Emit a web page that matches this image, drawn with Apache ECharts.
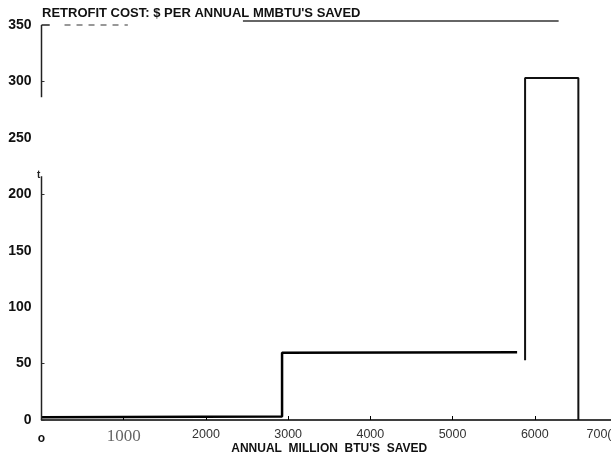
<!DOCTYPE html>
<html>
<head>
<meta charset="utf-8">
<script src="https://cdn.jsdelivr.net/npm/echarts@6/dist/echarts.min.js"></script>
<style>html,body{margin:0;padding:0;background:#fff;}#c{width:611px;height:458px;}</style>
</head>
<body>
<div id="c"></div>
<script>
// --- data ---
var xTicks = [0, 1000, 2000, 3000, 4000, 5000, 6000, 7000];
var yTicks = [0, 50, 100, 150, 200, 250, 300, 350];
var yTickMarks = [0, 50, 200, 300];
// step curve: low-cost block then mid-cost block
var stepX = [0, 2926, 2926, 5785];
var stepY = [2.5, 3, 59.5, 60];
// high-cost block
var highX = [5882, 5882, 6530, 6530];
var highY = [53, 303, 303, 0];
// frame fragments of the scanned page (data coords)
var topRuleX = [2450, 6290];
var topRuleY = [353.5, 353.5];
var dashX = [280, 1050];
var dashY = [350, 350];
var cornerX = [0, 100];
var cornerY = [350, 350];
var yLineA = [350, 286];
var yLineB = [216, 0];

function pts(xs, ys) { return xs.map(function (x, i) { return [x, ys[i]]; }); }

var chart = echarts.init(document.getElementById('c'), null, {renderer: 'canvas'});
var F = 'Liberation Sans, Arial, sans-serif';
var lineSeries = function (data, w, color, type) {
  return {type: 'line', data: data, symbol: 'none', clip: false, silent: true,
    lineStyle: {color: color || '#000', width: w, type: type || 'solid'}, animation: false};
};
chart.setOption({
  animation: false,
  backgroundColor: '#fff',
  title: {
    text: "RETROFIT COST: $ PER ANNUAL MMBTU'S SAVED",
    left: 37, top: 2,
    textStyle: {fontFamily: F, fontWeight: 'bold', fontSize: 13, color: '#111'}
  },
  grid: {left: 41.5, right: -6, top: 25, bottom: 38, containLabel: false, outerBoundsMode: 'none'},
  xAxis: {
    type: 'value', min: 0, max: 7000, interval: 1000,
    name: "ANNUAL  MILLION  BTU'S  SAVED",
    nameLocation: 'middle', nameGap: 23, nameMoveOverlap: false,
    nameTextStyle: {fontFamily: F, fontWeight: 'bold', fontSize: 12, color: '#111', verticalAlign: 'top'},
    axisLine: {show: true, onZero: false, lineStyle: {color: '#000', width: 1.5}},
    axisTick: {show: true, inside: true, length: 4, lineStyle: {color: '#000', width: 1}},
    splitLine: {show: false},
    axisLabel: {
      margin: 8, fontFamily: F, fontSize: 12.5, color: '#333',
      formatter: function (v) {
        if (v === 0) return '{o|o}';
        if (v === 1000) return '{s|1000}';
        if (v === 7000) return '{e|700(}';
        return String(v);
      },
      rich: {
        o: {fontFamily: F, fontWeight: 'bold', fontSize: 12, color: '#111', padding: [5, 0, 0, 0]},
        s: {fontFamily: 'Liberation Serif, Times New Roman, serif', fontSize: 17, color: '#666', padding: [0, 0, 1, 0]},
        e: {fontFamily: F, fontSize: 12.5, color: '#333', padding: [0, 36, 0, 0]}
      }
    }
  },
  yAxis: {
    type: 'value', min: 0, max: 350, interval: 50,
    axisLine: {show: false},
    axisTick: {show: true, inside: true, length: 3, customValues: yTickMarks, lineStyle: {color: '#333', width: 1}},
    splitLine: {show: false},
    axisLabel: {margin: 10, fontFamily: F, fontWeight: 'bold', fontSize: 14, color: '#111'}
  },
  graphic: [
    {type: 'text', left: 37, top: 170, style: {text: 't', fontFamily: F, fontWeight: 'bold', fontSize: 10, fill: '#222'}}
  ],
  series: [
    lineSeries(pts(stepX, stepY), 2.5, '#000'),
    lineSeries(pts(highX, highY), 2, '#111'),
    lineSeries(pts(topRuleX, topRuleY), 1.5, '#333'),
    lineSeries(pts(dashX, dashY), 1, '#333', [6, 6]),
    lineSeries(pts(cornerX, cornerY), 1.5, '#222'),
    lineSeries(pts([0, 0], yLineA), 1.5, '#222'),
    lineSeries(pts([0, 0], yLineB), 1.5, '#222')
  ]
});
</script>
</body>
</html>
